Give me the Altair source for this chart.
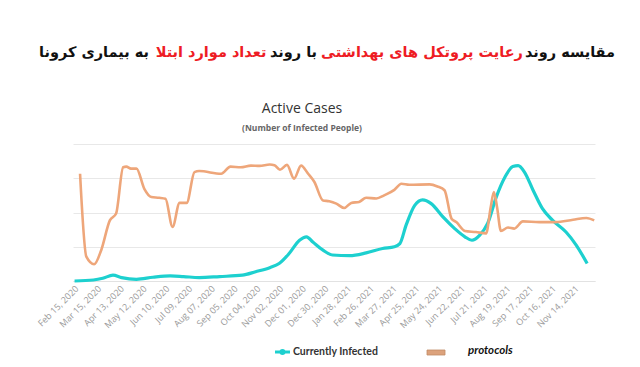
import altair as alt
import pandas as pd

# ---------------- data ----------------
protocol_dates = ["2020-02-23","2020-03-02","2020-03-12","2020-03-21","2020-04-01","2020-04-09","2020-04-18","2020-04-22",
                  "2020-04-28","2020-05-05","2020-05-15","2020-05-24","2020-06-03","2020-06-11","2020-06-20","2020-06-29",
                  "2020-07-08","2020-07-18","2020-07-24","2020-08-21","2020-09-02","2020-09-15","2020-09-28","2020-10-09",
                  "2020-10-22","2020-10-28","2020-11-04","2020-11-13","2020-11-22","2020-12-01","2020-12-10","2020-12-18",
                  "2020-12-29","2021-01-06","2021-01-15","2021-01-25","2021-02-03","2021-02-13","2021-02-22","2021-03-07",
                  "2021-03-17","2021-03-30","2021-04-08","2021-04-18","2021-05-14","2021-05-24","2021-06-02","2021-06-11",
                  "2021-06-17","2021-06-28","2021-07-12","2021-07-25","2021-07-31","2021-08-04","2021-08-08","2021-08-13",
                  "2021-08-22","2021-08-30","2021-09-10","2021-10-01","2021-10-22","2021-11-13","2021-11-30","2021-12-10"]
protocol_values = [3.13,0.71,0.49,0.90,1.77,1.97,3.32,3.34,
                   3.28,3.28,2.69,2.45,2.43,2.40,1.58,2.28,
                   2.28,3.18,3.21,3.13,3.34,3.32,3.37,3.36,
                   3.40,3.38,3.25,3.39,2.99,3.37,3.13,2.89,
                   2.35,2.33,2.26,2.13,2.28,2.31,2.43,2.41,
                   2.50,2.66,2.84,2.81,2.82,2.76,2.65,1.82,
                   1.72,1.46,1.43,1.39,2.16,2.60,2.16,1.46,
                   1.56,1.53,1.74,1.72,1.72,1.79,1.84,1.77]

infected_dates = ["2020-02-16","2020-03-11","2020-03-23","2020-04-05","2020-04-16","2020-05-05","2020-05-26","2020-06-17",
                  "2020-07-04","2020-07-24","2020-08-19","2020-09-17","2020-10-04","2020-10-22","2020-11-03","2020-11-16",
                  "2020-11-29","2020-12-08","2020-12-16","2020-12-29","2021-01-10","2021-02-01","2021-02-22","2021-03-15",
                  "2021-03-30","2021-04-06","2021-04-14","2021-04-25","2021-05-05","2021-05-16","2021-05-31","2021-06-15",
                  "2021-06-28","2021-07-07","2021-07-17","2021-07-27","2021-08-07","2021-08-18","2021-08-28","2021-09-04",
                  "2021-09-12","2021-09-23","2021-10-05","2021-10-18","2021-11-04","2021-11-17","2021-12-01"]
infected_values = [0.00,0.03,0.08,0.17,0.10,0.05,0.11,0.15,
                   0.13,0.10,0.13,0.17,0.27,0.39,0.51,0.81,
                   1.19,1.29,1.14,0.90,0.76,0.74,0.82,0.95,
                   1.00,1.09,1.63,2.21,2.37,2.26,1.87,1.53,
                   1.29,1.19,1.34,1.68,2.45,3.03,3.34,3.37,
                   3.18,2.65,2.11,1.77,1.43,1.05,0.51]

tick_dates = ["2020-02-15","2020-03-15","2020-04-13","2020-05-12","2020-06-10","2020-07-09","2020-08-07","2020-09-05",
              "2020-10-04","2020-11-02","2020-12-01","2020-12-30","2021-01-28","2021-02-26","2021-03-27","2021-04-25",
              "2021-05-24","2021-06-22","2021-07-21","2021-08-19","2021-09-17","2021-10-16","2021-11-14"]
x_domain = ["2020-02-14", "2021-12-11"]
y_grid = [0, 1, 2, 3, 4]

title_parts = ["مقایسه روند", "رعایت پروتکل های بهداشتی", "با روند", "تعداد موارد ابتلا", "به بیماری کرونا"]
title_colors = ["#111111", "#ee1c24", "#111111", "#ee1c24", "#111111"]
title_centers = [497, 349, 220.5, 138, 21]

chart_title = "Active Cases"
chart_subtitle = "(Number of Infected People)"
legend_labels = ["Currently Infected", "protocols"]

CYAN = "#1dd0cf"
ORANGE = "#eea67a"


def ms(d):
    return int(pd.Timestamp(d, tz="UTC").timestamp() * 1000)


prot_df = pd.DataFrame({"date": protocol_dates, "value": protocol_values})
inf_df = pd.DataFrame({"date": infected_dates, "value": infected_values})

x_enc = alt.X(
    "date:T",
    scale=alt.Scale(type="utc", domain=[ms(d) for d in x_domain]),
    axis=alt.Axis(values=[ms(d) for d in tick_dates],
                  labelExpr="utcFormat(datum.value, '%b %d, %Y')",
                  labelAngle=-45, labelFontSize=9, labelColor="#9a9a9a", labelFont="Open Sans",
                  ticks=False, domainColor="#e2e2e2", grid=False, title=None, labelPadding=3,
                  labelOverlap=False),
)
y_enc = alt.Y(
    "value:Q",
    scale=alt.Scale(domain=[0, 4], nice=False),
    axis=alt.Axis(values=y_grid, labels=False, ticks=False, domain=False, grid=True,
                  gridColor="#e8e8e8", title=None),
)

infected = alt.Chart(inf_df).mark_line(color=CYAN, strokeWidth=3.2, interpolate="monotone").encode(x=x_enc, y=y_enc)
protocols = alt.Chart(prot_df).mark_line(color=ORANGE, strokeWidth=2.6, interpolate="monotone").encode(x=x_enc, y=y_enc)

one = pd.DataFrame({"k": [0]})

layers = [infected, protocols]

for txt, col, cx in zip(title_parts, title_colors, title_centers):
    layers.append(
        alt.Chart(one).mark_text(text=txt, color=col, font="DejaVu Sans", fontWeight="bold", fontSize=14.5,
                                 align="center", baseline="middle")
        .encode(x=alt.value(cx), y=alt.value(-91))
    )

layers.append(
    alt.Chart(one).mark_text(text=chart_title, color="#333333", font="Open Sans", fontSize=14,
                             align="center", baseline="middle")
    .encode(x=alt.value(229), y=alt.value(-35))
)
layers.append(
    alt.Chart(one).mark_text(text=chart_subtitle, color="#666666", font="Open Sans", fontWeight="bold",
                             fontSize=8.5, align="center", baseline="middle")
    .encode(x=alt.value(229), y=alt.value(-16))
)

# legend
layers.append(
    alt.Chart(one).mark_rule(color=CYAN, strokeWidth=3)
    .encode(x=alt.value(202), x2=alt.value(217), y=alt.value(208))
)
layers.append(
    alt.Chart(one).mark_point(color=CYAN, filled=True, opacity=1, size=35, shape="circle")
    .encode(x=alt.value(209.5), y=alt.value(208))
)
layers.append(
    alt.Chart(one).mark_text(text=legend_labels[0], color="#333333", font="Lato", fontWeight="bold",
                             fontSize=10.5, align="left", baseline="middle")
    .encode(x=alt.value(220), y=alt.value(208))
)
layers.append(
    alt.Chart(one).mark_rect(color="#dca27c", stroke="#c08a66", strokeWidth=0.8)
    .encode(x=alt.value(354), x2=alt.value(372), y=alt.value(206), y2=alt.value(211))
)
layers.append(
    alt.Chart(one).mark_text(text=legend_labels[1], color="#111111", font="Lato", fontWeight="bold",
                             fontStyle="italic", fontSize=11.5, align="left", baseline="middle")
    .encode(x=alt.value(395), y=alt.value(207))
)

chart = (
    alt.layer(*layers)
    .properties(width=522, height=137,
                autosize=alt.AutoSizeParams(type="none"),
                padding={"left": 65, "top": 136, "right": 30, "bottom": 78},
                background="white")
    .configure_view(strokeWidth=0)
)

chart.save("out.html", embed_options={"renderer": "svg", "actions": False})
